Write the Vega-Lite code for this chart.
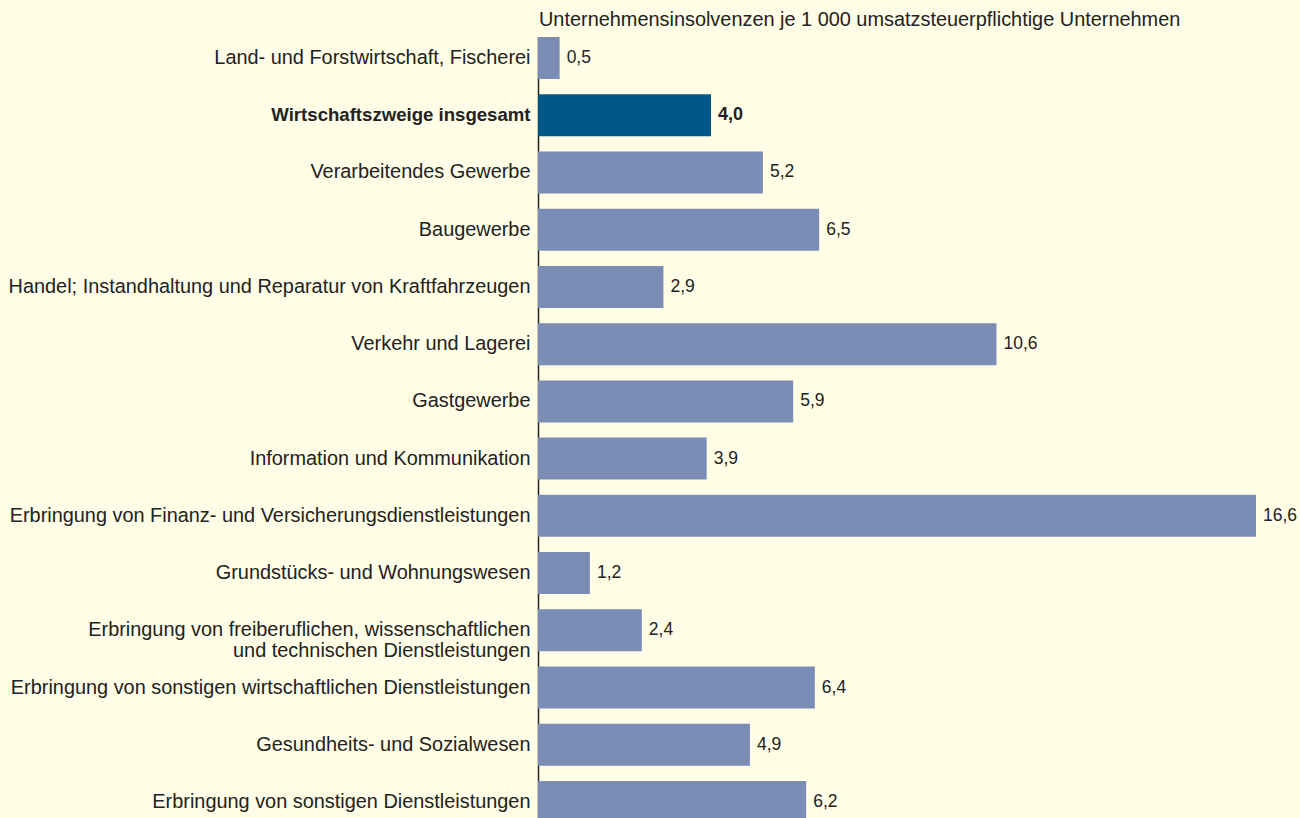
{
  "$schema": "https://vega.github.io/schema/vega-lite/v6.json",
  "autosize": {"type": "none"},
  "padding": {"left": 538, "top": 37, "right": 44, "bottom": 0},
  "width": 718,
  "height": 781,
  "background": "#FFFDE6",
  "config": {
    "view": {"stroke": null},
    "font": "Liberation Sans",
    "locale": {"number": {"decimal": ",", "thousands": ".", "grouping": [3], "currency": ["", " €"]}}
  },
  "title": {
    "text": "Unternehmensinsolvenzen je 1 000 umsatzsteuerpflichtige Unternehmen",
    "anchor": "start",
    "frame": "group",
    "orient": "top",
    "offset": 7,
    "dx": 1,
    "fontSize": 19.9,
    "fontWeight": "normal",
    "color": "#222222",
    "font": "Liberation Sans"
  },
  "data": {
    "values": [
      {"Bereich": "Land- und Forstwirtschaft, Fischerei", "Wert": 0.5, "Gesamt": false},
      {"Bereich": "Wirtschaftszweige insgesamt", "Wert": 4.0, "Gesamt": true},
      {"Bereich": "Verarbeitendes Gewerbe", "Wert": 5.2, "Gesamt": false},
      {"Bereich": "Baugewerbe", "Wert": 6.5, "Gesamt": false},
      {"Bereich": "Handel; Instandhaltung und Reparatur von Kraftfahrzeugen", "Wert": 2.9, "Gesamt": false},
      {"Bereich": "Verkehr und Lagerei", "Wert": 10.6, "Gesamt": false},
      {"Bereich": "Gastgewerbe", "Wert": 5.9, "Gesamt": false},
      {"Bereich": "Information und Kommunikation", "Wert": 3.9, "Gesamt": false},
      {"Bereich": "Erbringung von Finanz- und Versicherungsdienstleistungen", "Wert": 16.6, "Gesamt": false},
      {"Bereich": "Grundstücks- und Wohnungswesen", "Wert": 1.2, "Gesamt": false},
      {"Bereich": "Erbringung von freiberuflichen, wissenschaftlichen|und technischen Dienstleistungen", "Wert": 2.4, "Gesamt": false},
      {"Bereich": "Erbringung von sonstigen wirtschaftlichen Dienstleistungen", "Wert": 6.4, "Gesamt": false},
      {"Bereich": "Gesundheits- und Sozialwesen", "Wert": 4.9, "Gesamt": false},
      {"Bereich": "Erbringung von sonstigen Dienstleistungen", "Wert": 6.2, "Gesamt": false}
    ]
  },
  "encoding": {
    "y": {
      "field": "Bereich",
      "type": "nominal",
      "sort": null,
      "scale": {"paddingInner": 0.266, "paddingOuter": 0, "range": [0, 786]},
      "axis": {
        "title": null,
        "ticks": false,
        "domain": true,
        "domainColor": "#222222",
        "domainWidth": 1.5,
        "labelPadding": 8,
        "labelFontSize": {"condition": {"test": "datum.value == 'Wirtschaftszweige insgesamt'", "value": 18.6}, "value": 19.9},
        "labelColor": "#222222",
        "labelLimit": 600,
        "labelLineHeight": 20.5,
        "labelFont": "Liberation Sans",
        "labelExpr": "split(datum.label, '|')",
        "labelFontWeight": {"condition": {"test": "datum.value == 'Wirtschaftszweige insgesamt'", "value": "bold"}, "value": "normal"}
      }
    },
    "x": {
      "field": "Wert",
      "type": "quantitative",
      "scale": {"domain": [0, 16.6], "nice": false},
      "axis": null
    }
  },
  "layer": [
    {
      "mark": {"type": "bar", "clip": true},
      "encoding": {
        "color": {
          "condition": {"test": "datum.Gesamt", "value": "#00578A"},
          "value": "#7B8DB5"
        }
      }
    },
    {
      "transform": [{"filter": "!datum.Gesamt"}],
      "mark": {"type": "text", "align": "left", "baseline": "middle", "dx": 7, "fontSize": 17.5, "color": "#222222", "font": "Liberation Sans"},
      "encoding": {"text": {"field": "Wert", "type": "quantitative", "format": ".1f"}}
    },
    {
      "transform": [{"filter": "datum.Gesamt"}],
      "mark": {"type": "text", "align": "left", "baseline": "middle", "dx": 7, "fontSize": 18, "fontWeight": "bold", "color": "#222222", "font": "Liberation Sans"},
      "encoding": {"text": {"field": "Wert", "type": "quantitative", "format": ".1f"}}
    }
  ]
}
